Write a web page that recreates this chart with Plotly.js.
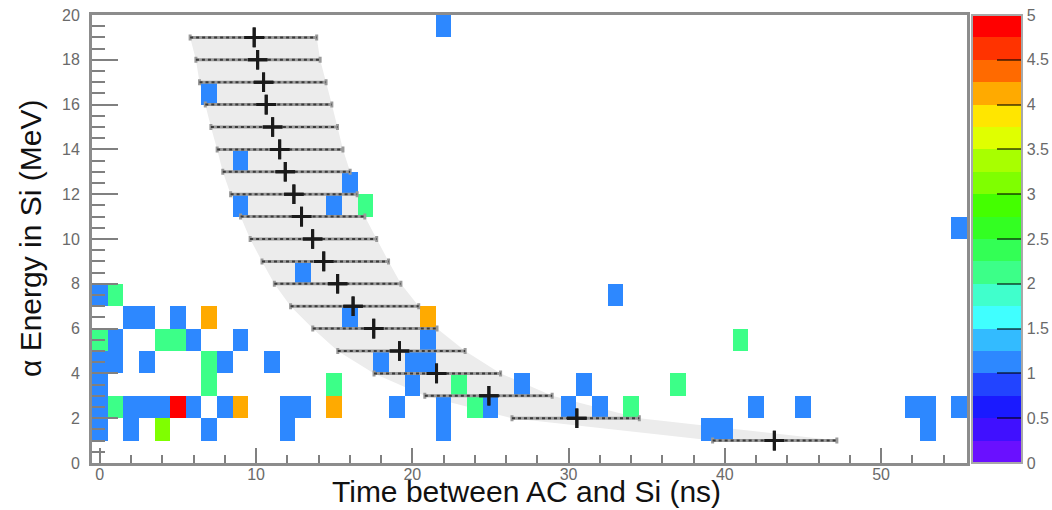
<!DOCTYPE html>
<html><head><meta charset="utf-8">
<script src="https://cdn.plot.ly/plotly-3.0.1.min.js"></script>
<style>html,body{margin:0;padding:0;background:#fff;} #chart{width:1052px;height:510px;}</style>
</head><body><div id="chart"></div>
<script>
// ---- 2D histogram: filled cells (time bin centre [ns], energy bin low edge [MeV], counts)
const cellTime = [22, 7, 9, 16, 9,15,17, 55, 13, 0,1,33,
  2,3,5,7,16,21,
  0,1,4,5,6,9,21,41,
  0,1,3,7,8,11,18,20,21,
  0,7,15,20,23,27,31,37,
  0,1,2,3,4,5,6,8,9,12,13,15,19,22,24,25,30,32,34,42,45,52,53,55,
  0,2,4,7,12,22,39,40,53];
const cellEnergy = [19, 16, 13, 12, 11,11,11, 10, 8, 7,7,7,
  6,6,6,6,6,6,
  5,5,5,5,5,5,5,5,
  4,4,4,4,4,4,4,4,4,
  3,3,3,3,3,3,3,3,
  2,2,2,2,2,2,2,2,2,2,2,2,2,2,2,2,2,2,2,2,2,2,2,2,
  1,1,1,1,1,1,1,1,1];
const cellCount = [1, 1, 1, 1, 1,1,2, 1, 1, 1,2,1,
  1,1,1,4,1,4,
  2,1,2,2,1,1,1,2,
  1,1,1,2,1,1,1,1,1,
  1,2,2,1,2,1,1,2,
  1,2,1,1,1,5,1,1,4,1,1,4,1,1,2,1,1,1,2,1,1,1,1,1,
  1,1,3,1,1,1,1,1,1];

// ---- profile points with horizontal errors
const profEnergy = [19,18,17,16,15,14,13,12,11,10,9,8,7,6,5,4,3,2,1];
const profTime   = [9.88,10.10,10.48,10.65,11.06,11.51,11.87,12.42,12.91,13.62,14.33,15.22,16.21,17.53,19.18,21.55,24.90,30.53,43.17];
const profErrLow = [4.10,3.95,4.10,3.90,3.95,4.00,4.00,4.05,3.90,4.00,3.95,4.05,4.00,3.90,3.95,4.00,4.10,4.15,3.95];
const profErrHigh= [4.00,4.00,4.00,4.20,4.15,4.05,4.15,4.05,4.05,4.10,4.15,4.05,4.20,4.05,4.20,4.10,4.05,4.00,4.00];

// ---- axes / colour levels
const timeEdgeMin = -0.5, timeEdgeMax = 55.5;
const energyEdgeMin = 0, energyEdgeMax = 20;
const zLevels = ['#6a10ff','#4010ff','#1a1aff','#2244ff','#2d88ff','#33bbff','#40ffff','#40ffcc','#3cff88','#33ff55',
                 '#33ff22','#44ff00','#7fff00','#a8ff00','#e0ff00','#ffe600','#ffaa00','#ff6a00','#ff3300','#ff0000'];
const cbTicks = [0,0.5,1,1.5,2,2.5,3,3.5,4,4.5,5];

// build grid
const xEdges = []; for (let v = timeEdgeMin; v <= timeEdgeMax + 1e-9; v += 1) xEdges.push(v);
const yEdges = []; for (let v = energyEdgeMin; v <= energyEdgeMax + 1e-9; v += 1) yEdges.push(v);
const z = [];
for (let j = 0; j < yEdges.length - 1; j++) { z.push(new Array(xEdges.length - 1).fill(null)); }
for (let i = 0; i < cellTime.length; i++) {
  const col = Math.round(cellTime[i] - timeEdgeMin - 0.5);
  const row = Math.round(cellEnergy[i] - energyEdgeMin);
  z[row][col] = cellCount[i];
}
const n = zLevels.length;
const colorscale = [];
zLevels.forEach((c, i) => {
  colorscale.push([i / n, c]);
  colorscale.push([i === n - 1 ? 1 : (i + 1) / n - 1e-6, c]);
});

// band path from profile extents
let path = '';
profEnergy.forEach((e, i) => { path += (i === 0 ? 'M' : 'L') + (profTime[i] - profErrLow[i]) + ',' + e + ' '; });
for (let i = profEnergy.length - 1; i >= 0; i--) { path += 'L' + (profTime[i] + profErrHigh[i]) + ',' + profEnergy[i] + ' '; }
path += 'Z';

// dotted overlay for error bars
const dotX = [], dotY = [];
profEnergy.forEach((e, i) => { dotX.push(profTime[i] - profErrLow[i], profTime[i] + profErrHigh[i], null); dotY.push(e, e, null); });

const traces = [
  {
    type: 'heatmap', x: xEdges, y: yEdges, z: z, zmin: 0, zmax: 5,
    colorscale: colorscale, hoverongaps: false, zsmooth: false,
    colorbar: {
      thickness: 50, thicknessmode: 'pixels', len: 448, lenmode: 'pixels',
      x: (972 - 92) / 875, xref: 'paper', xanchor: 'left', xpad: 0,
      y: 0.5, yanchor: 'middle', ypad: 0,
      outlinewidth: 2, outlinecolor: '#a8a8a8',
      tickmode: 'array', tickvals: cbTicks, ticktext: cbTicks.map(String),
      ticks: 'inside', ticklen: 26, tickwidth: 2, tickcolor: 'rgba(0,0,0,0.55)',
      tickfont: { size: 16, color: '#6a6a6a', family: 'Liberation Sans, Arial, sans-serif' }
    }
  },
  {
    type: 'scatter', mode: 'markers', x: profTime, y: profEnergy,
    marker: { symbol: 'cross-thin', size: 14, color: '#1a1a1a', line: { width: 3, color: '#1a1a1a' } },
    error_x: { type: 'data', symmetric: false, array: profErrHigh, arrayminus: profErrLow, color: '#9a9a9a', thickness: 3, width: 3 },
    hoverinfo: 'skip'
  },
  {
    type: 'scatter', mode: 'lines', x: dotX, y: dotY, connectgaps: false,
    line: { color: '#3a3a3a', width: 2, dash: '3px,3px' }, hoverinfo: 'skip'
  },
  {
    type: 'scatter', mode: 'markers', x: profTime, y: profEnergy,
    marker: { symbol: 'cross-thin', size: 14, color: '#1a1a1a', line: { width: 3, color: '#1a1a1a' } },
    hoverinfo: 'skip'
  }
];

const tickFont = { size: 16, color: '#6a6a6a', family: 'Liberation Sans, Arial, sans-serif' };
const layout = {
  width: 1052, height: 510,
  margin: { l: 92, r: 85, t: 15, b: 47, autoexpand: false },
  paper_bgcolor: '#ffffff', plot_bgcolor: '#ffffff',
  showlegend: false,
  font: { family: 'Liberation Sans, Arial, sans-serif', color: '#6a6a6a', size: 16 },
  xaxis: {
    range: [timeEdgeMin, timeEdgeMax], tickmode: 'linear', tick0: 0, dtick: 10,
    ticks: 'inside', ticklen: 15, tickwidth: 2, tickcolor: '#808080',
    minor: { tick0: 0, dtick: 2, ticks: 'inside', ticklen: 8, tickwidth: 2, tickcolor: '#808080', showgrid: false },
    showline: true, linecolor: '#8c8c8c', linewidth: 3, mirror: true,
    showgrid: false, zeroline: false, tickfont: tickFont, ticklabelstandoff: -5
  },
  yaxis: {
    range: [energyEdgeMin, energyEdgeMax], tickmode: 'linear', tick0: 0, dtick: 2,
    ticks: 'inside', ticklen: 26, tickwidth: 2, tickcolor: '#808080',
    minor: { tick0: 0, dtick: 0.5, ticks: 'inside', ticklen: 13, tickwidth: 2, tickcolor: '#808080', showgrid: false },
    showline: true, linecolor: '#8c8c8c', linewidth: 3, mirror: true,
    showgrid: false, zeroline: false, tickfont: tickFont, ticklabelstandoff: 6
  },
  shapes: [
    { type: 'path', xref: 'x', yref: 'y', path: path, fillcolor: '#ececec', line: { width: 0 }, layer: 'below' }
  ],
  annotations: [
    { text: 'Time between AC and Si (ns)', xref: 'paper', yref: 'paper', x: (526 - 92) / 875, y: (463 - 491) / 448,
      xanchor: 'center', yanchor: 'middle', showarrow: false,
      font: { size: 30, color: '#111', family: 'Liberation Sans, Arial, sans-serif' } },
    { text: 'α Energy in Si (MeV)', xref: 'paper', yref: 'paper', x: (30 - 92) / 875, y: 0.5, textangle: -90,
      xanchor: 'center', yanchor: 'middle', showarrow: false,
      font: { size: 30, color: '#111', family: 'Liberation Sans, Arial, sans-serif' } }
  ]
};

Plotly.newPlot('chart', traces, layout, { displayModeBar: false, staticPlot: true });
</script>
</body></html>
